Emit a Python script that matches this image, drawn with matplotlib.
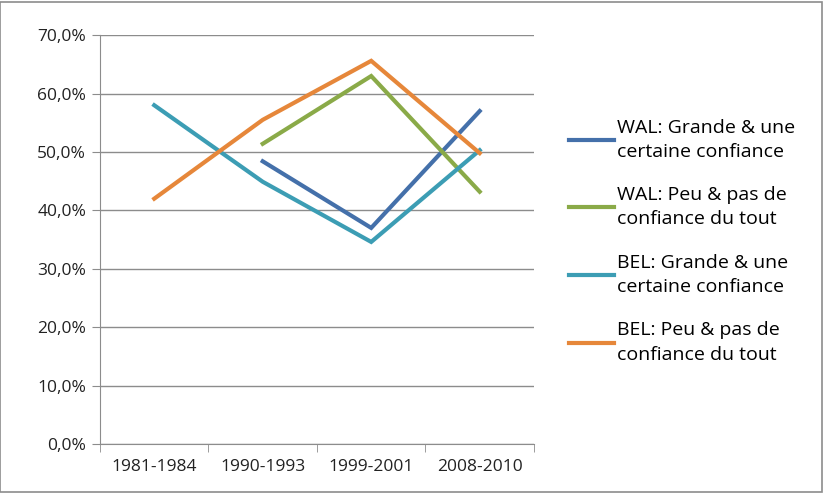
import matplotlib.pyplot as plt
import numpy as np
from matplotlib.patches import Rectangle

periods = ["1981-1984", "1990-1993", "1999-2001", "2008-2010"]
wal_grande = [np.nan, 48.4, 37.0, 57.0]
wal_peu = [np.nan, 51.4, 63.0, 43.2]
bel_grande = [58.0, 44.9, 34.6, 50.3]
bel_peu = [42.0, 55.5, 65.6, 49.8]

labels = ["WAL: Grande & une\ncertaine confiance",
          "WAL: Peu & pas de\nconfiance du tout",
          "BEL: Grande & une\ncertaine confiance",
          "BEL: Peu & pas de\nconfiance du tout"]
colors = ["#4470AA", "#8AAA48", "#3C9DB4", "#E6873A"]

plt.rcParams["font.family"] = ["Open Sans", "DejaVu Sans"]

fig = plt.figure(figsize=(8.25, 4.95), dpi=100)
ax = fig.add_axes([0.1212, 0.103, 0.526, 0.826])

x = np.arange(len(periods))
for series, lab, col in zip([wal_grande, wal_peu, bel_grande, bel_peu], labels, colors):
    ax.plot(x, series, color=col, lw=3, label=lab, solid_joinstyle="miter")

ax.set_xlim(-0.5, 3.5)
ax.set_ylim(0, 70)
ax.set_yticks(np.arange(0, 71, 10))
ax.set_yticklabels([f"{v:.1f}%".replace(".", ",") for v in np.arange(0, 71, 10)])
ax.yaxis.grid(True, color="#8C8C8C", lw=1)
ax.set_axisbelow(True)

ax.set_xticks(x)
ax.set_xticklabels(periods)
ax.set_xticks(np.arange(-0.5, 3.6, 1), minor=True)
ax.tick_params(axis="x", which="major", length=0, pad=11)
ax.tick_params(axis="x", which="minor", length=6, color="#8C8C8C")
ax.tick_params(axis="y", length=6, color="#8C8C8C", pad=4)
ax.tick_params(labelsize=12.5, labelcolor="#222222")

for s in ["top", "right"]:
    ax.spines[s].set_visible(False)
for s in ["left", "bottom"]:
    ax.spines[s].set_color("#8C8C8C")

leg = ax.legend(loc="center left", bbox_to_anchor=(0.673, 0.513), bbox_transform=fig.transFigure,
                frameon=False, fontsize=14, handlelength=2.3, handletextpad=0.2,
                labelspacing=1.3, borderpad=0.2)
for t in leg.get_texts():
    t.set_linespacing(1.45)

fig.add_artist(Rectangle((0.0, 0.006), 0.996, 0.99, transform=fig.transFigure,
                         fill=False, edgecolor="#8C8C8C", lw=1.2))

fig.savefig("out.png", dpi=100)
